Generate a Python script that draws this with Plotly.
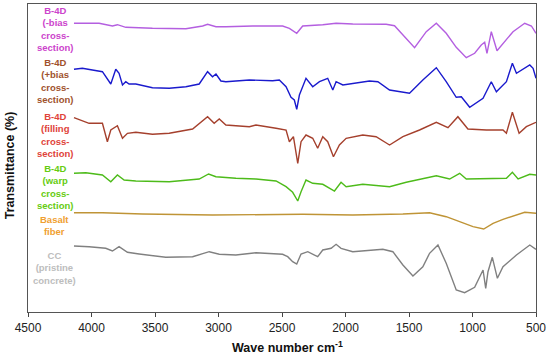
import plotly.graph_objects as go

# ---- data (wavenumber cm-1, offset transmittance a.u.) ----
wn_bias_minus = [4138, 3940, 3835, 3796, 3730, 3520, 3257, 3125, 3086, 3020, 2942, 2731, 2495, 2442, 2384,
                 2337, 2179, 2074, 1943, 1680, 1614, 1548, 1456, 1364, 1285, 1207, 1128, 1049, 983, 931,
                 904, 886, 852, 807, 760, 681, 589, 536, 500]
t_bias_minus = [288.7, 288.7, 286, 287.3, 284.7, 283.7, 283.3, 286, 287.7, 285.3, 285.3, 286, 286, 283.7, 278.7,
                286, 287.3, 288.7, 288, 287.7, 286.3, 277, 264.3, 280.3, 288.7, 278.7, 264.7, 254.3, 258.7, 267,
                269.7, 258.7, 280.3, 261.3, 268.7, 280.3, 288.7, 286, 278.7]

wn_bias_plus = [4138, 4072, 3993, 3914, 3848, 3809, 3783, 3756, 3730, 3704, 3651, 3520, 3388, 3257, 3152,
                3086, 3047, 3020, 2981, 2942, 2757, 2574, 2521, 2468, 2429, 2403, 2384, 2363, 2311, 2258,
                2205, 2140, 2100, 2074, 2021, 1943, 1811, 1745, 1653, 1496, 1391, 1285, 1207, 1128, 1088,
                1022, 917, 852, 812, 733, 686, 654, 602, 549, 523, 500]
t_bias_plus = [242.7, 243.7, 242, 240.3, 228, 242.7, 238.7, 227, 230.3, 228, 228, 224.3, 223.7, 225.3, 228,
               240.3, 235.3, 238, 231, 230.3, 232, 231.3, 232, 225.3, 214.7, 212, 202.7, 217, 233.7, 225.3,
               230.3, 233.7, 222, 230.3, 227, 228.7, 231, 230.3, 222, 218.7, 232, 244.3, 230.3, 214.7, 215.3,
               204.7, 213.7, 230.3, 220.3, 230.3, 248.7, 238.7, 242.7, 247, 243.7, 233.7]

wn_filling = [4138, 4019, 3914, 3875, 3848, 3796, 3756, 3717, 3651, 3520, 3388, 3204, 3086, 3034, 2994,
              2942, 2757, 2705, 2547, 2468, 2442, 2410, 2376, 2350, 2311, 2258, 2219, 2179, 2140, 2095,
              2048, 1995, 1864, 1759, 1653, 1548, 1417, 1285, 1193, 1115, 1036, 891, 760, 733, 686,
              633, 576, 500]
t_filling = [194.3, 188.7, 188.7, 170.3, 182, 186.3, 173.7, 178.7, 179.7, 177.7, 178.7, 183, 195.3, 188.7, 193,
             187, 185.3, 187, 183.7, 182, 170.3, 175.3, 148.7, 170.3, 177, 173.7, 163.7, 175.3, 170.3, 155.3,
             167, 173.7, 177, 175.3, 167, 175.3, 182, 189.7, 184.3, 195.3, 183, 182, 182, 178.7, 199.7,
             178.7, 185.3, 189.7]

wn_warp = [4138, 4045, 3914, 3848, 3796, 3743, 3651, 3388, 3152, 3078, 3020, 2863, 2705, 2547, 2468,
           2416, 2376, 2350, 2311, 2258, 2179, 2087, 2035, 1995, 1864, 1653, 1522, 1285, 1180, 1101,
           1049, 891, 733, 686, 641, 549, 500]
t_warp = [138.7, 139.3, 137, 130.3, 137, 132, 131, 130.3, 133, 138, 135.3, 133.7, 133, 131, 125.3,
          119.7, 111, 120.3, 132, 128.7, 127.7, 121, 129.7, 125.3, 127.7, 125.3, 129.7, 136.3, 133, 138.7,
          133, 133.7, 133.7, 139.7, 133, 137.7, 137]

wn_basalt = [4138, 3914, 3599, 3047, 2337, 1943, 1548, 1338, 1207, 1101, 996, 912, 838, 760, 654, 589, 500]
t_basalt = [99.3, 99.3, 98, 97, 97.7, 97, 98, 99.3, 95.3, 90.3, 85.3, 83, 88.7, 92.7, 97, 99.7, 98.7]

wn_cc = [4138, 4019, 3888, 3835, 3783, 3717, 3625, 3415, 3204, 3073, 2994, 2863, 2705, 2495, 2455,
         2416, 2384, 2350, 2297, 2258, 2219, 2179, 2113, 2074, 2035, 1943, 1864, 1706, 1627, 1548,
         1469, 1391, 1338, 1272, 1207, 1128, 1062, 983, 917, 896, 878, 844, 804, 760, 654, 549, 500]
t_cc = [66, 65.3, 63.7, 61, 65.3, 59.7, 58, 54.7, 55.3, 60.3, 57.7, 57, 59.3, 57.7, 55.3,
        50.3, 48, 58, 60.3, 58, 55.3, 62, 63.7, 67.7, 63.7, 60.3, 61.3, 62.7, 60.3, 47,
        36, 45.3, 58.7, 67, 48.7, 22, 19.3, 24.7, 42, 23.7, 40.3, 54.7, 33.7, 45.3, 57, 67, 62.7]

series_names = ["B-4D (-bias cross-section)", "B-4D (+bias cross-section)", "B-4D (filling cross-section)",
                "B-4D (warp cross-section)", "Basalt fiber", "CC (pristine concrete)"]
label_texts = ["B-4D<br>(-bias<br>cross-<br>section)", "B-4D<br>(+bias<br>cross-<br>section)",
               "B-4D<br>(filling<br>cross-<br>section)", "B-4D<br>(warp<br>cross-<br>section)",
               "Basalt<br>fiber", "CC<br>(pristine<br>concrete)"]
x_ticks = [4500, 4000, 3500, 3000, 2500, 2000, 1500, 1000, 500]

line_colors = ["#B45FE0", "#1A1ACD", "#A5402D", "#4DBB1A", "#BF9436", "#808080"]
label_colors = ["#CC44CC", "#A0522D", "#E0433A", "#66CC11", "#F0A030", "#BDBDBD"]
label_y = [0.920, 0.749, 0.576, 0.407, 0.282, 0.143]

xs = [wn_bias_minus, wn_bias_plus, wn_filling, wn_warp, wn_basalt, wn_cc]
ys = [t_bias_minus, t_bias_plus, t_filling, t_warp, t_basalt, t_cc]

fig = go.Figure()
for name, x, y, c in zip(series_names, xs, ys, line_colors):
    fig.add_trace(go.Scatter(x=x, y=y, mode="lines", name=name,
                             line=dict(color=c, width=1.4), showlegend=False))

for txt, c, yy in zip(label_texts, label_colors, label_y):
    fig.add_annotation(x=0.053, y=yy, xref="paper", yref="paper", text="<b>" + txt + "</b>",
                       showarrow=False, xanchor="center", yanchor="middle",
                       font=dict(family="Liberation Sans, Arial", size=9.5, color=c))

fig.add_annotation(x=0.511, y=-0.114, xref="paper", yref="paper",
                   text="<b>Wave number cm<sup>-1</sup></b>", showarrow=False,
                   xanchor="center", yanchor="middle",
                   font=dict(family="Liberation Sans, Arial", size=12.5, color="#111"))
fig.add_annotation(x=-0.035, y=0.477, xref="paper", yref="paper",
                   text="<b>Transmittance (%)</b>", showarrow=False, textangle=-90,
                   xanchor="center", yanchor="middle",
                   font=dict(family="Liberation Sans, Arial", size=12.5, color="#111"))

fig.update_layout(
    width=550, height=355,
    margin=dict(l=28, r=14, t=4, b=43),
    paper_bgcolor="white", plot_bgcolor="white",
    xaxis=dict(range=[4500, 500], tickvals=x_ticks, ticktext=[str(v) for v in x_ticks],
               ticks="outside", ticklen=4, tickcolor="#444", showgrid=False, zeroline=False,
               showline=True, linecolor="#555", linewidth=1.3, mirror=True,
               tickfont=dict(family="Liberation Sans, Arial", size=12, color="#222")),
    yaxis=dict(range=[0, 308], showticklabels=False, ticks="", showgrid=False, zeroline=False,
               showline=True, linecolor="#555", linewidth=1.3, mirror=True),
)

fig.write_html("out.html", config={"displayModeBar": False},
               post_script="document.body.style.margin='0';document.body.style.overflow='hidden';")
